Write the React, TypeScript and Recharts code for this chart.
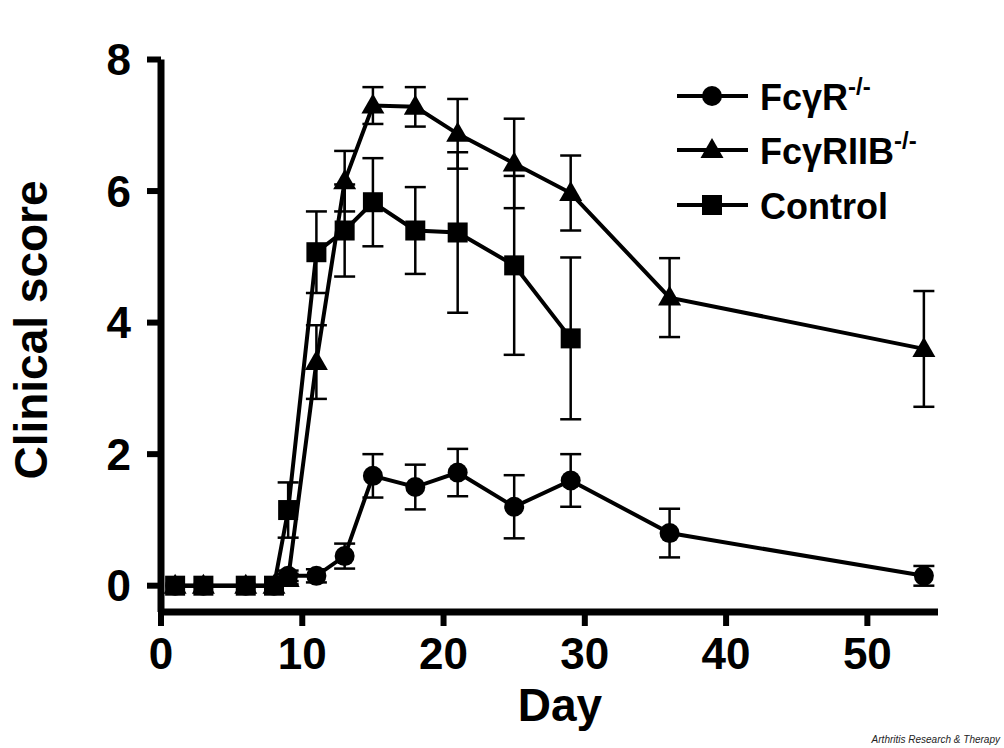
import { ErrorBar, Legend, Line, LineChart, XAxis, YAxis } from "recharts";

const FONT = '"Liberation Sans", Arial, Helvetica, sans-serif';

// FcγR-/- (circles)
const fcrDays = [1, 3, 6, 8, 9, 11, 13, 15, 18, 21, 25, 29, 36, 54];
const fcrScore = [0, 0, 0, 0, 0.15, 0.15, 0.45, 1.67, 1.5, 1.72, 1.2, 1.6, 0.8, 0.15];
const fcrErr = [0, 0, 0, 0, 0.08, 0.1, 0.19, 0.33, 0.34, 0.36, 0.48, 0.4, 0.37, 0.15];

// FcγRIIB-/- (triangles)
const riibDays = [1, 3, 6, 8, 9, 11, 13, 15, 18, 21, 25, 29, 36, 54];
const riibScore = [0, 0, 0, 0, 0.1, 3.4, 6.15, 7.3, 7.28, 6.87, 6.42, 5.97, 4.38, 3.6];
const riibErr = [0, 0, 0, 0, 0.08, 0.56, 0.46, 0.28, 0.3, 0.53, 0.68, 0.57, 0.6, 0.88];

// Control (squares)
const ctrlDays = [1, 3, 6, 8, 9, 11, 13, 15, 18, 21, 25, 29];
const ctrlScore = [0, 0, 0, 0, 1.15, 5.07, 5.4, 5.83, 5.4, 5.37, 4.87, 3.76];
const ctrlErr = [0, 0, 0, 0, 0.42, 0.62, 0.7, 0.67, 0.66, 1.22, 1.36, 1.23];

const xTicks = [0, 10, 20, 30, 40, 50];
const yTicks = [0, 2, 4, 6, 8];

const toRows = (days: number[], score: number[], err: number[]) =>
  days.map((day, i) => ({ day, score: score[i], err: err[i] }));

const fcrData = toRows(fcrDays, fcrScore, fcrErr);
const riibData = toRows(riibDays, riibScore, riibErr);
const ctrlData = toRows(ctrlDays, ctrlScore, ctrlErr);

function CircleDot(p: any) {
  if (p.cx == null || p.cy == null) return <g key={`c-${p.index}`} />;
  return <circle key={`c-${p.index}`} cx={p.cx} cy={p.cy} r={10} fill="#000" />;
}

function TriangleDot(p: any) {
  if (p.cx == null || p.cy == null) return <g key={`t-${p.index}`} />;
  const { cx, cy } = p;
  return (
    <polygon
      key={`t-${p.index}`}
      points={`${cx},${cy - 12} ${cx + 11.5},${cy + 8} ${cx - 11.5},${cy + 8}`}
      fill="#000"
    />
  );
}

function SquareDot(p: any) {
  if (p.cx == null || p.cy == null) return <g key={`s-${p.index}`} />;
  return (
    <rect key={`s-${p.index}`} x={p.cx - 10} y={p.cy - 10} width={20} height={20} fill="#000" />
  );
}

function LegendBox() {
  const rows = [
    { y: 36, label: "FcγR", sup: "-/-", mark: "circle" },
    { y: 90, label: "FcγRIIB", sup: "-/-", mark: "triangle" },
    { y: 145, label: "Control", sup: "", mark: "square" },
  ];
  return (
    <svg width={300} height={170} style={{ overflow: "visible" }}>
      {rows.map((r) => (
        <g key={r.label}>
          <line x1={17} x2={88} y1={r.y} y2={r.y} stroke="#000" strokeWidth={4} />
          {r.mark === "circle" && <circle cx={52} cy={r.y} r={10} fill="#000" />}
          {r.mark === "triangle" && (
            <polygon
              points={`52,${r.y - 12} ${52 + 11.5},${r.y + 8} ${52 - 11.5},${r.y + 8}`}
              fill="#000"
            />
          )}
          {r.mark === "square" && <rect x={42} y={r.y - 10} width={20} height={20} fill="#000" />}
          <text
            x={100}
            y={r.y + 14}
            fontFamily={FONT}
            fontWeight="bold"
            fontSize={36}
            fill="#000"
          >
            {r.label}
            {r.sup && (
              <tspan dy={-15} fontSize={24}>
                {r.sup}
              </tspan>
            )}
          </text>
        </g>
      ))}
    </svg>
  );
}

export default function App() {
  const tickStyle = { fill: "#000", fontSize: 44, fontWeight: "bold", fontFamily: FONT };
  return (
    <div
      style={{
        position: "absolute",
        left: 0,
        top: 0,
        width: 1004,
        height: 748,
        background: "#fff",
        fontFamily: FONT,
      }}
    >
      <LineChart
        width={1004}
        height={748}
        margin={{ top: 59.5, right: 66, left: 0, bottom: 0 }}
      >
        <XAxis
          type="number"
          dataKey="day"
          domain={[0, 55]}
          ticks={xTicks}
          allowDataOverflow
          height={136}
          tick={tickStyle}
          tickSize={14}
          tickMargin={12}
          axisLine={{ stroke: "#000", strokeWidth: 7 }}
          tickLine={{ stroke: "#000", strokeWidth: 6 }}
        />
        <YAxis
          type="number"
          domain={[-0.4, 8]}
          ticks={yTicks}
          allowDataOverflow
          width={161}
          tick={tickStyle}
          tickSize={14}
          tickMargin={16}
          axisLine={{ stroke: "#000", strokeWidth: 7 }}
          tickLine={{ stroke: "#000", strokeWidth: 6 }}
        />
        <Legend
          layout="horizontal"
          verticalAlign="middle"
          align="center"
          content={() => <LegendBox />}
          wrapperStyle={{ position: "absolute", left: 660, top: 60, width: 300, height: 170 }}
        />
        <Line
          data={fcrData}
          dataKey="score"
          name="FcγR-/-"
          stroke="#000"
          strokeWidth={4}
          dot={CircleDot}
          activeDot={false}
          isAnimationActive={false}
        >
          <ErrorBar dataKey="err" direction="y" width={10.5} stroke="#000" strokeWidth={2.5} />
        </Line>
        <Line
          data={riibData}
          dataKey="score"
          name="FcγRIIB-/-"
          stroke="#000"
          strokeWidth={4}
          dot={TriangleDot}
          activeDot={false}
          isAnimationActive={false}
        >
          <ErrorBar dataKey="err" direction="y" width={10.5} stroke="#000" strokeWidth={2.5} />
        </Line>
        <Line
          data={ctrlData}
          dataKey="score"
          name="Control"
          stroke="#000"
          strokeWidth={4}
          dot={SquareDot}
          activeDot={false}
          isAnimationActive={false}
        >
          <ErrorBar dataKey="err" direction="y" width={10.5} stroke="#000" strokeWidth={2.5} />
        </Line>
      </LineChart>
      <svg
        width={1004}
        height={748}
        style={{ position: "absolute", left: 0, top: 0, pointerEvents: "none" }}
      >
        <text
          x={47}
          y={330}
          transform="rotate(-90 47 330)"
          textAnchor="middle"
          fontFamily={FONT}
          fontWeight="bold"
          fontSize={46}
          fill="#000"
        >
          Clinical score
        </text>
        <text
          x={560}
          y={721}
          textAnchor="middle"
          fontFamily={FONT}
          fontWeight="bold"
          fontSize={46}
          fill="#000"
        >
          Day
        </text>
        <text
          x={1000}
          y={743}
          textAnchor="end"
          fontFamily={FONT}
          fontStyle="italic"
          fontSize={10}
          fill="#222"
        >
          Arthritis Research &amp; Therapy
        </text>
      </svg>
    </div>
  );
}
